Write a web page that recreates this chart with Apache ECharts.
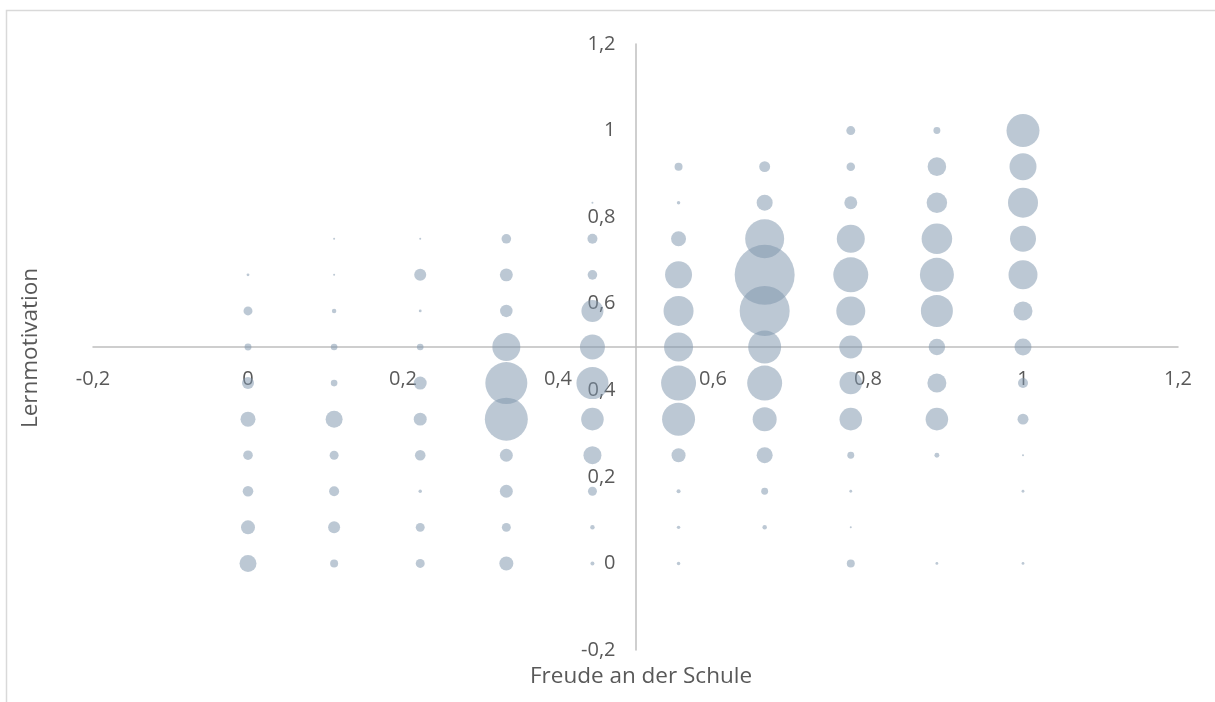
<!DOCTYPE html>
<html>
<head>
<meta charset="UTF-8">
<title>Freude an der Schule / Lernmotivation</title>
<style>
    html, body { margin: 0; padding: 0; background: #ffffff; }
    #main { width: 1215px; height: 702px; }
</style>
<script src="https://cdn.jsdelivr.net/npm/echarts@6/dist/echarts.min.js"></script>
</head>
<body>
<div id="main"></div>
<script type="text/javascript">
    // x positions (Freude an der Schule) and y positions (Lernmotivation)
    var freudeSteps = [0, 1/9, 2/9, 3/9, 4/9, 5/9, 6/9, 7/9, 8/9, 1];
    var motivSteps = [0, 1/12, 2/12, 3/12, 4/12, 5/12, 6/12, 7/12, 8/12, 9/12, 10/12, 11/12, 1];

    // bubble sizes (counts) per x column, index = y step, 0 = no bubble
    var col0 = [72, 49, 28, 23, 56, 36, 12, 20, 2, 0, 0, 0, 0];
    var col1 = [16, 36, 25, 20, 72, 11, 11, 5, 1, 1, 0, 0, 0];
    var col2 = [20, 20, 3, 28, 42, 42, 11, 2, 36, 1, 0, 0, 0];
    var col3 = [49, 20, 42, 42, 462, 441, 196, 39, 42, 23, 0, 0, 0];
    var col4 = [4, 5, 20, 81, 127, 256, 156, 121, 23, 25, 1, 0, 0];
    var col5 = [3, 3, 4, 49, 272, 306, 210, 225, 182, 56, 3, 16, 0];
    var col6 = [0, 5, 12, 64, 144, 306, 272, 625, 900, 380, 64, 30, 0];
    var col7 = [16, 1, 2, 12, 127, 127, 132, 210, 306, 196, 42, 18, 20];
    var col8 = [2, 0, 0, 6, 127, 90, 68, 256, 289, 233, 105, 86, 12];
    var col9 = [2, 0, 2, 1, 30, 25, 72, 90, 210, 169, 225, 182, 272];
    var columns = [col0, col1, col2, col3, col4, col5, col6, col7, col8, col9];

    var bubbles = [];
    columns.forEach(function (col, i) {
        col.forEach(function (n, j) {
            if (n > 0) bubbles.push([freudeSteps[i], motivSteps[j], n]);
        });
    });

    var W = 1215, H = 702;
    var gridLeft = 93, gridRight = 37, gridTop = 44, gridBottom = 52;
    var gridW = W - gridLeft - gridRight;
    var gridH = H - gridTop - gridBottom;
    // axes cross at 0.5 / 0.5 like in the Excel chart
    var cross = (0.5 - (-0.2)) / 1.4;

    var fmt = function (v) { return String(+v.toFixed(1)).replace('.', ','); };
    var labelStyle = { color: '#595959', fontSize: 20, fontFamily: 'Open Sans' };

    var myChart = echarts.init(document.getElementById('main'));
    var option = {
        backgroundColor: '#ffffff',
        animation: false,
        grid: { left: gridLeft, right: gridRight, top: gridTop, bottom: gridBottom },
        xAxis: {
            type: 'value',
            min: -0.2, max: 1.2, interval: 0.2,
            offset: -gridH * cross,
            axisLine: { onZero: false, lineStyle: { color: '#bfbfbf', width: 1.5 } },
            axisTick: { show: false },
            splitLine: { show: false },
            axisLabel: Object.assign({ margin: 22, formatter: fmt }, labelStyle)
        },
        yAxis: {
            type: 'value',
            min: -0.2, max: 1.2, interval: 0.2,
            offset: -gridW * cross,
            axisLine: { show: true, onZero: false, lineStyle: { color: '#bfbfbf', width: 1.5 } },
            axisTick: { show: false },
            splitLine: { show: false },
            axisLabel: Object.assign({ margin: 20, formatter: fmt }, labelStyle)
        },
        graphic: [
            {
                type: 'rect', silent: true,
                shape: { x: 6.5, y: 10.5, width: 1400, height: 900 },
                style: { fill: 'none', stroke: '#d9d9d9', lineWidth: 1.5 }
            },
            {
                type: 'text', silent: true, x: 641, y: 677,
                style: { text: 'Freude an der Schule', fill: '#595959', fontSize: 22.5,
                    fontFamily: 'Open Sans', align: 'center', verticalAlign: 'middle' }
            },
            {
                type: 'text', silent: true, x: 31, y: 348, rotation: Math.PI / 2,
                style: { text: 'Lernmotivation', fill: '#595959', fontSize: 22.5,
                    fontFamily: 'Open Sans', align: 'center', verticalAlign: 'middle' }
            }
        ],
        series: [
            {
                type: 'scatter',
                data: bubbles,
                symbolSize: function (val) { return Math.sqrt(val[2]) * 2; },
                itemStyle: { color: 'rgba(127,150,173,0.65)' }
            }
        ]
    };
    myChart.setOption(option);
</script>
</body>
</html>
